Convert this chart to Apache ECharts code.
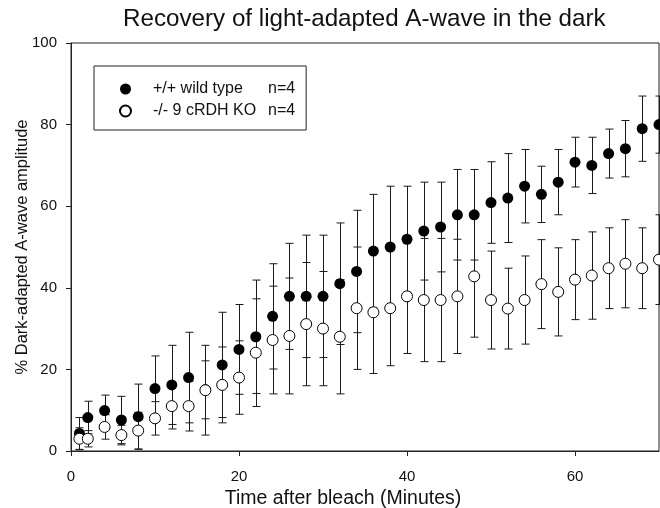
<!DOCTYPE html>
<html>
<head>
<meta charset="utf-8">
<script src="https://cdn.jsdelivr.net/npm/echarts@6/dist/echarts.min.js"></script>
<style>
html,body{margin:0;padding:0;background:#fff;}
#chart{width:660px;height:508px;}
</style>
</head>
<body>
<div id="chart"></div>
<script>
const times = [1,2,4,6,8,10,12,14,16,18,20,22,24,26,28,30,32,34,36,38,40,42,44,46,48,50,52,54,56,58,60,62,64,66,68,70];
const wtMean = [4.3,8.2,9.9,7.6,8.4,15.3,16.2,18.0,15.0,21.1,24.9,28.0,33.0,37.9,37.9,37.9,41.0,44.0,49.0,50.0,51.9,53.9,54.9,57.9,57.9,60.9,62.0,64.9,62.9,65.9,70.8,70.0,72.9,74.1,79.0,80.0];
const wtErr  = [3.9,4.0,3.8,5.8,8.0,8.0,9.7,11.1,7.1,12.9,11.0,13.9,12.9,13.0,15.0,15.0,14.9,15.0,13.9,14.9,13.0,12.0,11.0,11.1,11.1,10.0,10.9,9.0,6.9,8.0,6.1,6.9,6.0,6.9,8.0,7.0];
const koMean = [3.0,3.0,5.9,3.9,5.0,8.0,11.0,11.0,14.9,16.2,18.0,24.1,27.2,28.2,31.1,30.0,28.0,35.0,34.0,35.0,37.9,37.0,37.0,37.9,42.8,37.0,34.9,37.0,40.9,39.0,42.0,43.0,44.8,45.9,44.8,46.9];
const koErr  = [2.7,2.0,3.0,2.4,4.5,4.1,5.6,6.1,11.0,9.3,9.0,13.2,13.2,14.2,15.1,14.0,14.0,15.0,15.0,14.1,14.0,15.1,15.1,14.0,14.9,12.0,9.9,10.8,10.9,10.8,9.8,10.7,9.9,10.8,9.9,11.0];
const xTicks = [0,20,40,60];
const yTicks = [0,20,40,60,80,100];
const wtName = '+/+ wild type';
const koName = '-/- 9 cRDH KO';
const nLabel = 'n=4';
const titleText = 'Recovery of light-adapted A-wave in the dark';
const xName = 'Time after bleach (Minutes)';
const yName = '% Dark-adapted A-wave amplitude';

const FONT = '"Liberation Sans", Arial, sans-serif';
const INK = '#111';

function pts(m){ return times.map((t,i)=>[t,m[i]]); }
function bars(m,e){ return times.map((t,i)=>[t,m[i]-e[i],m[i]+e[i]]); }

function renderErr(params, api){
  const x = api.value(0), lo = api.value(1), hi = api.value(2);
  const a = api.coord([x,hi]), b = api.coord([x,lo]);
  const cx = Math.round(a[0]) + 0.5;
  const w = 4;
  const st = {stroke:'#1a1a1a', lineWidth:1};
  return {type:'group', children:[
    {type:'line', shape:{x1:cx,y1:a[1],x2:cx,y2:b[1]}, style:st},
    {type:'line', shape:{x1:cx-w,y1:a[1],x2:cx+w,y2:a[1]}, style:st},
    {type:'line', shape:{x1:cx-w,y1:b[1],x2:cx+w,y2:b[1]}, style:st}
  ]};
}

const chart = echarts.init(document.getElementById('chart'), null, {renderer:'canvas'});
chart.setOption({
  animation:false,
  backgroundColor:'#fff',
  title:{
    text:titleText,
    left:123,
    top:7,
    padding:0,
    textStyle:{fontFamily:FONT, fontSize:24.2, fontWeight:'normal', color:INK}
  },
  legend:{
    orient:'vertical',
    left:94, top:66,
    data:[wtName, koName],
    icon:'circle',
    itemWidth:11, itemHeight:11,
    itemGap:6,
    padding:[15,11,11,25],
    borderColor:'#222', borderWidth:1,
    formatter: name => '{s| }{a|' + name + '}{b|' + nLabel + '}',
    textStyle:{
      fontFamily:FONT, fontSize:16, color:INK,
      rich:{
        s:{width:17, fontSize:16, lineHeight:18},
        a:{width:115, fontFamily:FONT, fontSize:16, color:INK, lineHeight:18},
        b:{fontFamily:FONT, fontSize:16, color:INK, lineHeight:18}
      }
    }
  },
  grid:{left:71, right:1, top:43, bottom:57, outerBoundsMode:'none', containLabel:false, show:true, borderColor:'#222', borderWidth:1, backgroundColor:'transparent'},
  xAxis:{
    type:'value', min:0, max:70, interval:20,
    name:xName, nameLocation:'middle', nameGap:34,
    nameTextStyle:{fontFamily:FONT, fontSize:19.5, color:INK, padding:[0,44,0,0]},
    axisLine:{show:true, onZero:false, lineStyle:{color:'#222', width:1}},
    axisTick:{show:true, inside:false, length:5, customValues:xTicks, lineStyle:{color:'#222'}},
    axisLabel:{customValues:xTicks, margin:18, fontFamily:FONT, fontSize:15, color:INK},
    splitLine:{show:false}
  },
  yAxis:{
    type:'value', min:0, max:100, interval:20,
    name:yName, nameLocation:'middle', nameGap:40, nameRotate:90, nameMoveOverlap:false,
    nameTextStyle:{fontFamily:FONT, fontSize:16.5, color:INK},
    axisLine:{show:true, lineStyle:{color:'#222', width:1}},
    axisTick:{show:true, inside:false, length:5, customValues:yTicks, lineStyle:{color:'#222'}},
    axisLabel:{customValues:yTicks, margin:14, fontFamily:FONT, fontSize:15, color:INK},
    splitLine:{show:false}
  },
  series:[
    {type:'custom', name:wtName+' err', renderItem:renderErr, data:bars(wtMean,wtErr), encode:{x:0,y:[1,2]}, z:2, clip:false, silent:true},
    {type:'custom', name:koName+' err', renderItem:renderErr, data:bars(koMean,koErr), encode:{x:0,y:[1,2]}, z:2, clip:false, silent:true},
    {type:'scatter', name:wtName, data:pts(wtMean), symbol:'circle', symbolSize:11, z:3, clip:false,
      itemStyle:{color:'#000', borderColor:'#000', borderWidth:0, opacity:1}},
    {type:'scatter', name:koName, data:pts(koMean), symbol:'circle', symbolSize:11, z:4, clip:false,
      itemStyle:{color:'#fff', borderColor:'#000', borderWidth:1, opacity:1}}
  ]
});
</script>
</body>
</html>
